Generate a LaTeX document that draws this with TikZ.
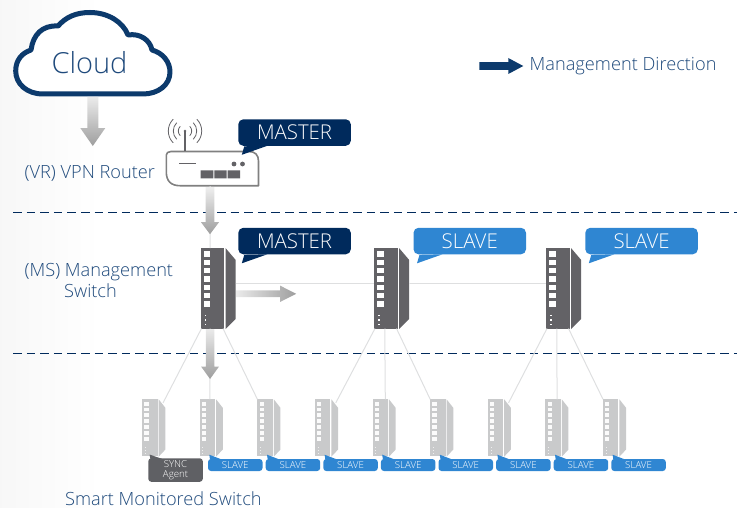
\documentclass[tikz,border=0pt]{standalone}
\usepackage{fontspec}
\setmainfont{Open Sans Light}
\usetikzlibrary{calc}
\definecolor{navy}{HTML}{002A5C}
\definecolor{cloudc}{HTML}{0C3A6C}
\definecolor{textc}{HTML}{1F4A7C}
\definecolor{blue2}{HTML}{2F86D2}
\definecolor{sync}{HTML}{5F6064}
\definecolor{swd}{HTML}{636266}
\definecolor{swl}{HTML}{C9CACB}
\definecolor{linkc}{HTML}{DEDFE0}
\tikzset{
  link/.style={draw=linkc,line width=1pt},
  dashline/.style={draw=navy,line width=0.9pt,dash pattern=on 8.5pt off 5.1pt},
  lbl/.style={text=textc,font=\fontsize{18.2}{20}\selectfont,inner sep=0pt,anchor=base west},
  bubble/.style={rounded corners=5pt,inner sep=0pt,outer sep=0pt,anchor=north west,text=white,
     minimum width=112.5pt,minimum height=26.5pt,font=\fontsize{20.4}{22}\selectfont},
  minibubble/.style={rounded corners=3pt,inner sep=0pt,outer sep=0pt,anchor=north west,text=white,
     minimum width=54.5pt,minimum height=12pt,font=\fontsize{9.7}{11}\selectfont},
  gradv/.style={top color=#1,bottom color=black!38,draw=none},
  gradh/.style={left color=#1,right color=black!38,draw=none},
}
% name, x, y, xscale, yscale, body colour, square colour, dot colour
\newcommand\swunit[8]{%
  \begin{scope}[shift={(#2,#3)},xscale=#4,yscale=#5]
    \node[anchor=north west,inner sep=0pt,outer sep=0pt,fill=#6,
      minimum width={23.5pt*#4},minimum height={80.5pt*#5}] (#1) at (0,0) {};
    \fill[#6] (25,0) -- (35.2,12) -- (35.2,71) -- (25,81) -- cycle;
    \foreach \k in {0,...,6} \fill[#7] (3.2,3.3+8.33*\k) rectangle +(6.5,5.5);
    \foreach \k in {67,71.4,75.8} \fill[#8] (4.2,\k) rectangle +(1.4,1.4);
    \coordinate (#1-in) at (0,35.3);
    \coordinate (#1-out) at (35.2,35.3);
    \coordinate (#1-tr) at (31.6,5.2);
  \end{scope}}
\newcommand\bigsw[3]{\swunit{#1}{#2}{#3}{1}{1}{swd}{white}{white}}
\newcommand\smsw[2]{\swunit{#1}{#2}{399.3}{0.655}{0.708}{swl}{white!92!swl}{white!70!swl}}
\newcommand\callout[5]{% name x y colour text
  \node[bubble,fill=#4] (#1) at (#2,#3) {#5};
  \fill[#4] ($(#1.south west)+(6,0.5)$) -- ++(-2.5,8.5) -- ++(25.5,-9) -- cycle;}
\newcommand\minislave[2]{% name x
  \node[minibubble,fill=blue2] (#1) at (#2,459) {SLAVE};
  \fill[blue2] ($(#1.north west)+(2,0.5)$) -- ++(-0.7,-4.8) -- ++(12.5,4.8) -- cycle;}
\begin{document}
\begin{tikzpicture}[x=1pt,y=-1pt]
\useasboundingbox (0,0) rectangle (746,508);
\shade[left color=black!3,right color=white,draw=none] (0,0) rectangle (100,508);

% dashed separators
\coordinate (d1a) at (13,212); \coordinate (d1b) at (737,212);
\coordinate (d2a) at (13,353); \coordinate (d2b) at (737,353);
\draw[dashline] (d1a) -- (d1b);
\draw[dashline] (d2a) -- (d2b);

% switches
\bigsw{ms1}{200.5}{248}
\bigsw{ms2}{374}{248}
\bigsw{ms3}{546}{248}
\smsw{s1}{142.3}
\smsw{s2}{199.7}
\smsw{s3}{257.4}
\smsw{s4}{315}
\smsw{s5}{372.6}
\smsw{s6}{430.2}
\smsw{s7}{487.8}
\smsw{s8}{545.4}
\smsw{s9}{603}

% cloud
\draw[cloudc,line width=5pt,fill=white,line join=round]
  (43,94) .. controls (27,94) and (15.7,84) .. (15.7,71)
  .. controls (15.7,60) and (22,53) .. (31,50)
  .. controls (33,35) and (42,25) .. (58,26)
  .. controls (66,17) and (76,12.5) .. (90,12.5)
  .. controls (108,12.5) and (123,22) .. (128,35)
  .. controls (140,33) and (150,40) .. (152,50)
  .. controls (163,53) and (170,62) .. (170,72)
  .. controls (170,85) and (158,94) .. (143,94) -- cycle;
\node[text=textc,font=\fontsize{29}{30}\selectfont,inner sep=0pt,anchor=base] (cloud) at (89.5,74) {Cloud};
\coordinate (cloudout) at (92.8,97);

% router
\node[inner sep=0pt,minimum width=93pt,minimum height=35pt] (router) at (212.3,168.5) {};
\draw[black!50,line width=1.6pt,fill=white,line join=round]
  (171,151.5) -- (249,151.5) .. controls (255,151.5) and (258.5,155) .. (258.5,161)
  -- (258.5,184) -- (258.5,185.7) -- (180,185.7)
  .. controls (171,185.7) and (166.3,181) .. (166.3,172)
  -- (166.3,155) .. controls (166.3,153) and (168,151.5) .. (171,151.5) -- cycle;
\draw[swd,line width=1.3pt] (185,151) -- (185,131);
\fill[swd] (185,131) circle (1.3pt);
\foreach \r in {6.7,11.7,16.7} {
  \draw[swd,line width=0.8pt] (185,131) ++(135:\r) arc (135:225:\r);
  \draw[swd,line width=0.8pt] (185,131) ++(-45:\r) arc (-45:45:\r);
}
\draw[swd,line width=0.9pt] (179,163.7) -- (196,163.7);
\fill[swd] (234,164) circle (2.4pt) (242.5,164) circle (2.4pt);
\fill[swd] (200.7,170.3) rectangle (213.3,178.3)
           (214.3,170.3) rectangle (226.7,178.3)
           (227.7,170.3) rectangle (240,178.3);

% connectors between the switches
\draw[link] ([xshift=-2.3pt]router.south) -- ([xshift=-2.2pt]ms1.north);
\draw[link] (ms1-out) -- (ms2-in);
\draw[link] (ms2-out) -- (ms3-in);
\draw[link] ([xshift=1pt]ms1.south west) -- (s1-tr);
\draw[link] ([xshift=-2.2pt]ms1.south) -- ([xshift=2.5pt]s2.north);
\draw[link] ([xshift=-1pt]ms1.south east) -- (s3.north west);
\draw[link] ([xshift=1pt]ms2.south west) -- (s4-tr);
\draw[link] ([xshift=-1pt]ms2.south) -- ([xshift=5pt]s5.north);
\draw[link] ([xshift=-1pt]ms2.south east) -- (s6.north west);
\draw[link] ([xshift=1pt]ms3.south west) -- (s7-tr);
\draw[link] ([xshift=-1pt]ms3.south) -- ([xshift=4pt]s8.north);
\draw[link] ([xshift=-1pt]ms3.south east) -- (s9.north west);

% gradient block arrows
\path[gradv=black!8] (cloudout) ++(-5.5,0) -- ++(0,31) -- ++(-7,0) -- ++(12.5,18) -- ++(12.5,-18) -- ++(-7,0) -- ++(0,-31) -- cycle;
\path[gradv=black!6] ([xshift=-2.3pt]router.south) ++(-4.3,1) -- ++(0,35) -- ++(-4.7,0) -- ++(9,12) -- ++(9,-12) -- ++(-4.7,0) -- ++(0,-35) -- cycle;
\path[gradv=black!8] ([xshift=-2.2pt]ms1.south) ++(-4.3,0.5) -- ++(0,37.5) -- ++(-4.7,0) -- ++(9,12.5) -- ++(9,-12.5) -- ++(-4.7,0) -- ++(0,-37.5) -- cycle;
\path[gradh=black!8] ([yshift=-10.5pt]ms1-out) ++(0.5,-3.4) -- ++(44,0) -- ++(0,-4.7) -- ++(16,8.1) -- ++(-16,8.1) -- ++(0,-4.7) -- ++(-44,0) -- cycle;

% bubbles
\callout{bm0}{238.3}{119.3}{navy}{MASTER}
\callout{bm1}{238.3}{227.8}{navy}{MASTER}
\callout{bs2}{413.5}{227.8}{blue2}{SLAVE}
\callout{bs3}{585.3}{227.8}{blue2}{SLAVE}

% small labels
\node[minibubble,fill=sync,minimum height=23.5pt,align=center,
  font=\fontsize{9.7}{9.6}\selectfont] (sa) at (148.3,458.3) {SYNC\\Agent};
\fill[sync] ($(sa.north west)+(2,0.5)$) -- ++(-0.7,-4.2) -- ++(12.5,4.2) -- cycle;
\minislave{m2}{208}
\minislave{m3}{265.7}
\minislave{m4}{323.3}
\minislave{m5}{380.9}
\minislave{m6}{438.5}
\minislave{m7}{496.1}
\minislave{m8}{553.7}
\minislave{m9}{611.3}

% text labels
\node[lbl] (vr) at (24.5,178.3) {(VR) VPN Router};
\node[lbl] (msl) at (24.5,276) {(MS) Management};
\node[lbl] (msl2) at (64,297.3) {Switch};
\node[lbl] (sms) at (65,505.3) {Smart Monitored Switch};
\node[lbl] (legend) at (529.5,70.7) {Management Direction};

% legend arrow
\coordinate (la) at (479.3,66);
\fill[cloudc] (la) ++(0,-3.8) -- ++(29,0) -- ++(0,-4.2) -- ++(15,8) -- ++(-15,8) -- ++(0,-4.2) -- ++(-29,0) -- cycle;
\end{tikzpicture}
\end{document}
